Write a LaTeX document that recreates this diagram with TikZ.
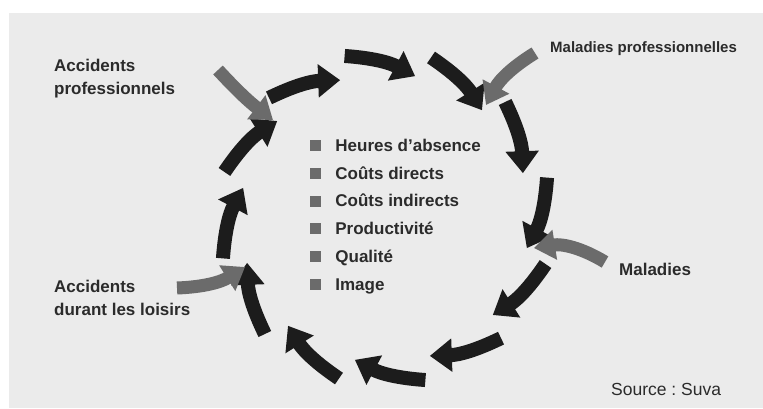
\documentclass[tikz,border=0pt]{standalone}
\usepackage{fontspec}
\setmainfont{Liberation Sans}
\usetikzlibrary{arrows.meta}
\definecolor{fond}{HTML}{EBEBEB}
\definecolor{fleche}{HTML}{1C1C1C}
\definecolor{entree}{HTML}{6B6B6B}
\definecolor{texte}{HTML}{2B2B2B}
\begin{document}
\begin{tikzpicture}[x=1pt,y=1pt,
    cycle/.style={fleche,line width=14pt,-{Triangle[length=22pt,width=32pt]}},
    apport/.style={entree,line width=13pt,-{Triangle[length=21pt,width=29pt]}},
    etiq/.style={anchor=base west,text=texte,inner sep=0pt,font=\fontsize{17}{23}\selectfont\bfseries},
    puce/.style={fill=entree,minimum size=11pt,inner sep=0pt}]
    \useasboundingbox (0,0) rectangle (763,408);
    \fill[fond] (9,0) rectangle (763,395);
    \coordinate (centre) at (385,190);
    % cercle des fleches noires
    \foreach \a [count=\i, evaluate=\a as \b using \a-26] in {134,104,...,-196} {
      \coordinate (d\i) at ([shift={(\a:167)}]centre);
      \coordinate (f\i) at ([shift={(\b:145)}]centre);
      \draw[cycle] (d\i) to[bend left=12] (f\i);
    }
    % sources
    \node[etiq] (accpro1) at (54,337) {Accidents};
    \node[etiq] (accpro2) at (54,314) {professionnels};
    \node[etiq,font=\fontsize{15}{18}\selectfont\bfseries] (malpro) at (550,355) {Maladies professionnelles};
    \node[etiq] (mal) at (619,133) {Maladies};
    \node[etiq] (accloi1) at (54,116) {Accidents};
    \node[etiq] (accloi2) at (54,93) {durant les loisirs};
    \coordinate (ea) at (218,338); \coordinate (ta) at (273,288);
    \coordinate (eb) at (535,355); \coordinate (tb) at (486,303);
    \coordinate (ec) at (605,146); \coordinate (tc) at (534,160);
    \coordinate (ed) at (177,120); \coordinate (td) at (245,141);
    \draw[apport] (ea) to[bend right=5] (ta);
    \draw[apport] (eb) to[bend right=15] (tb);
    \draw[apport] (ec) to[bend right=20] (tc);
    \draw[apport] (ed) to[bend right=15] (td);
    % liste
    \foreach \t [count=\i] in {Heures d’absence,Coûts directs,Coûts indirects,Productivité,Qualité,Image} {
      \node[puce] (p\i) at (315,{262.5-27.8*(\i-1)}) {};
      \node[etiq] (l\i) at ([xshift=14.5pt]p\i.south east) {\t};
    }
    \node[etiq,font=\fontsize{17.5}{20}\selectfont\frenchspacing] (source) at (611,13) {Source : Suva};
\end{tikzpicture}
\end{document}
